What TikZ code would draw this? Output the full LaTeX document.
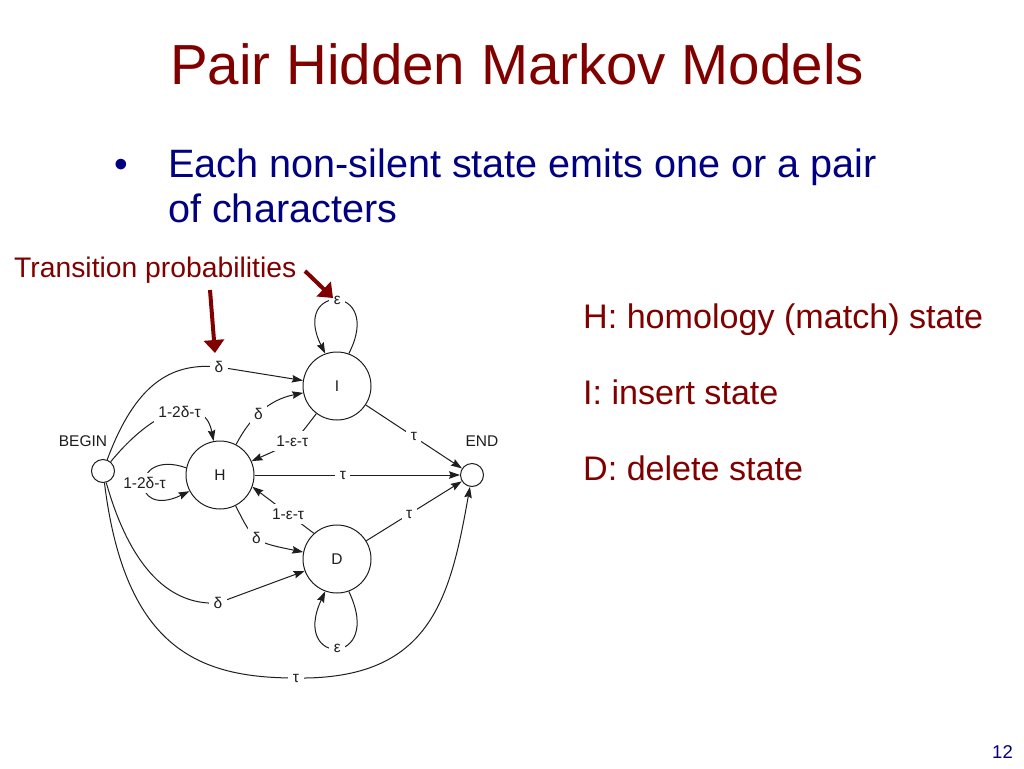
\documentclass[tikz,border=0pt]{standalone}
\usepackage{fontspec}
\setmainfont{Liberation Sans}
\usetikzlibrary{arrows.meta}
\definecolor{maroon}{RGB}{128,0,0}
\definecolor{navy}{RGB}{0,0,128}
\definecolor{ink}{RGB}{30,30,30}
\begin{document}
\begin{tikzpicture}[x=1pt,y=-1pt,
  state/.style={circle,draw=ink,line width=1pt,minimum size=68pt,inner sep=0pt,text=ink,font=\fontsize{15.5}{18}\selectfont},
  term/.style={circle,draw=ink,line width=1pt,minimum size=23pt,inner sep=0pt},
  edge/.style={draw=ink,line width=1pt,-{Stealth[length=11pt,width=7.5pt,inset=1.5pt]}},
  lbl/.style={fill=white,inner sep=4.5pt,text=ink,font=\fontsize{15.5}{18}\selectfont},
  plain/.style={text=ink,inner sep=0pt,font=\fontsize{15.5}{18}\selectfont},
  redarrow/.style={draw=maroon,line width=4pt,-{Triangle[length=13pt,width=20pt]}},
  txt/.style={anchor=base west,inner sep=0pt}
]
\useasboundingbox (0,0) rectangle (1024,768);
\fill[white] (0,0) rectangle (1024,768);

% texts
\node[txt,text=maroon,font=\fontsize{56.5}{60}\selectfont] (title) at (170,84) {Pair Hidden Markov Models};
\node[anchor=base,inner sep=0pt,text=navy,font=\fontsize{39}{45}\selectfont] (bul) at (121,177) {•};
\node[txt,text=navy,font=\fontsize{39.6}{45}\selectfont] (body1) at (168,177) {Each non-silent state emits one or a pair};
\node[txt,text=navy,font=\fontsize{39.6}{45}\selectfont] (body2) at (168,222) {of characters};
\node[txt,text=maroon,font=\fontsize{28.3}{30}\selectfont] (tp) at (14,277) {Transition probabilities};
\node[txt,text=maroon,font=\fontsize{34.1}{36}\selectfont] (lh) at (583,328) {H: homology (match) state};
\node[txt,text=maroon,font=\fontsize{34.1}{36}\selectfont] (li) at (583,404) {I: insert state};
\node[txt,text=maroon,font=\fontsize{34.1}{36}\selectfont] (ld) at (583,480) {D: delete state};
\node[anchor=base east,inner sep=0pt,text=navy,font=\fontsize{18.5}{20}\selectfont] (pg) at (1013,758) {12};

% states
\node[term] (B) at (103,471) {};
\node[term] (E) at (472,475) {};
\node[state] (H) at (220,475) {H};
\node[state] (I) at (337,386) {I};
\node[state] (D) at (337,559) {D};
\node[plain] (bl) at (83,441) {BEGIN};
\node[plain] (el) at (482,441) {END};

% transitions
\draw[edge] (B) .. controls (135,385) and (170,362) .. (219,367) node[lbl]{δ} -- (I);
\draw[edge] (B) .. controls (160,402) and (205,396) .. (H) node[lbl,pos=0.52]{1-2δ-τ};
\draw[edge] (H.168) .. controls (130,448) and (130,520) .. (H.208) node[lbl,pos=0.5]{1-2δ-τ};
\draw[edge] (H) .. controls (250,418) and (268,400) .. (I) node[lbl,pos=0.45]{δ};
\draw[edge] (I) .. controls (295,442) .. (H) node[lbl,pos=0.5]{1-ε-τ};
\draw[edge] (H) -- (E) node[lbl,pos=0.43]{τ};
\draw[edge] (I) -- (E) node[lbl,pos=0.5]{τ};
\draw[edge] (H) .. controls (254,542) .. (D) node[lbl,pos=0.47]{δ};
\draw[edge] (D.132) -- (H.340) node[lbl,pos=0.42]{1-ε-τ};
\draw[edge] (D) -- (E) node[lbl,pos=0.45]{τ};
\draw[edge] (B) .. controls (128,560) and (165,606) .. (218,603) node[lbl]{δ} -- (D);
\draw[edge] (B) .. controls (125,650) and (200,678) .. (296,678) node[lbl]{τ} .. controls (430,680) and (450,600) .. (E);
\draw[edge] (I.70) .. controls (385,283) and (290,283) .. (I.110) node[lbl,pos=0.5]{ε};
\draw[edge] (D.290) .. controls (385,667) and (290,667) .. (D.250) node[lbl,pos=0.5]{ε};

% red pointers
\coordinate (r1s) at (210,290);
\coordinate (r1e) at (215,353);
\coordinate (r2s) at (305,271);
\coordinate (r2e) at (333,298);
\draw[redarrow] (r1s) -- (r1e);
\draw[redarrow] (r2s) -- (r2e);
\end{tikzpicture}
\end{document}
